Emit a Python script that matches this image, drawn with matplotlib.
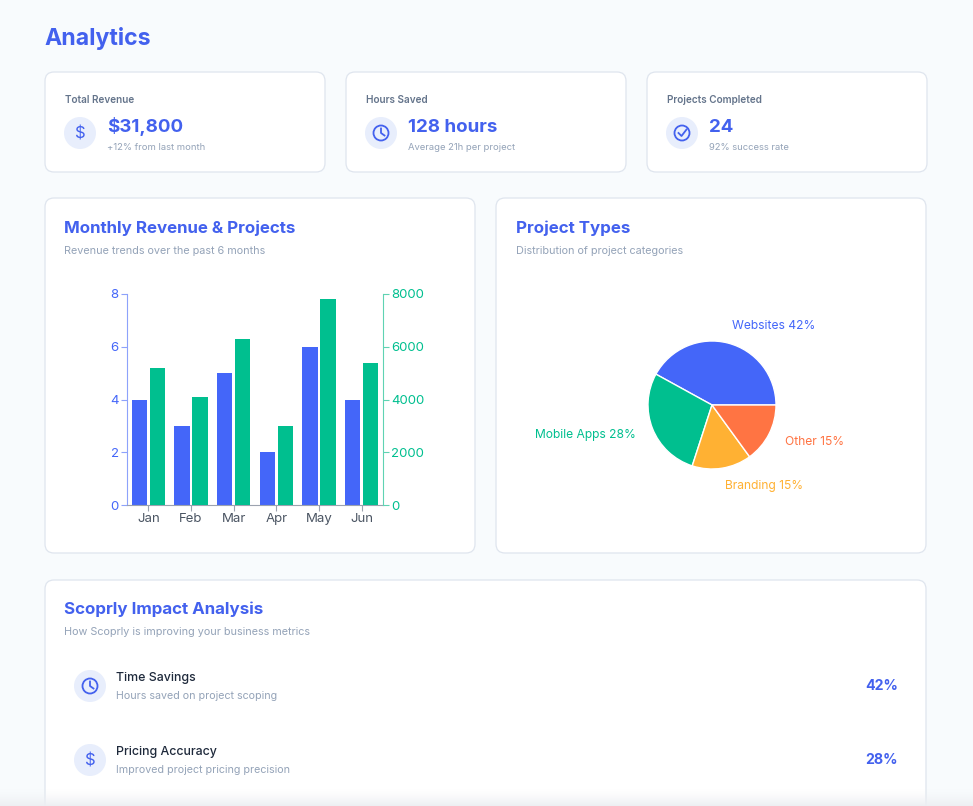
import matplotlib.pyplot as plt
from matplotlib.patches import FancyBboxPatch, Circle
import numpy as np

plt.rcParams['font.family'] = ['Inter', 'DejaVu Sans']

# data
months = ['Jan', 'Feb', 'Mar', 'Apr', 'May', 'Jun']
projects = [4, 3, 5, 2, 6, 4]
revenue = [5200, 4100, 6300, 3000, 7800, 5400]

pie_labels = ['Websites', 'Mobile Apps', 'Branding', 'Other']
pie_values = [42, 28, 15, 15]

stat_titles = ['Total Revenue', 'Hours Saved', 'Projects Completed']
stat_values = ['$31,800', '128 hours', '24']
stat_notes = ['+12% from last month', 'Average 21h per project', '92% success rate']

impact_names = ['Time Savings', 'Pricing Accuracy']
impact_notes = ['Hours saved on project scoping', 'Improved project pricing precision']
impact_values = ['42%', '28%']

BLUE = '#4361ee'
BAR_BLUE = '#4466f9'
GREEN = '#00bf8f'
AMBER = '#ffb133'
ORANGE = '#ff7443'
GRAY = '#94a3b8'
DARK = '#1e293b'
ICON_BG = '#e8eefc'

W, H = 973, 806
fig = plt.figure(figsize=(W / 100, H / 100), dpi=100)
fig.patch.set_facecolor('#f8fbfd')

bg = fig.add_axes([0, 0, 1, 1])
bg.set_xlim(0, W)
bg.set_ylim(H, 0)
bg.axis('off')


def card(x0, y0, x1, y1):
    bg.add_patch(FancyBboxPatch((x0, y0), x1 - x0, y1 - y0,
                                boxstyle='round,pad=0,rounding_size=9',
                                fc='white', ec='#dfe5ee', lw=0.9))


def icon(cx, cy, kind):
    bg.add_patch(Circle((cx, cy), 16, fc=ICON_BG, ec='none'))
    if kind == 'dollar':
        bg.text(cx, cy + 1, '$', color=BLUE, fontsize=12, ha='center', va='center')
    elif kind == 'clock':
        bg.add_patch(Circle((cx, cy), 7.5, fc='none', ec=BLUE, lw=1.3))
        bg.plot([cx, cx, cx + 3.5], [cy - 4.5, cy, cy + 2.5], color=BLUE, lw=1.3)
    else:
        bg.add_patch(Circle((cx, cy), 7.5, fc='none', ec=BLUE, lw=1.3))
        bg.plot([cx - 3.5, cx - 0.5, cx + 4.5], [cy, cy + 3, cy - 3.5], color=BLUE, lw=1.3)


bg.text(44, 39, 'Analytics', color=BLUE, fontsize=16.6, fontweight='bold', va='center')

kinds = ['dollar', 'clock', 'check']
for i in range(3):
    x0 = 45 + i * 301
    card(x0, 72, x0 + 280, 172)
    bg.text(x0 + 20, 100, stat_titles[i], color='#64748b', fontsize=7.2, fontweight='semibold', va='center')
    icon(x0 + 35, 133, kinds[i])
    bg.text(x0 + 62, 127, stat_values[i], color=BLUE, fontsize=13.5, fontweight='bold', va='center')
    bg.text(x0 + 62, 147, stat_notes[i], color=GRAY, fontsize=6.8, va='center')

card(45, 198, 475, 553)
card(496, 198, 926, 553)
bg.text(64, 228, 'Monthly Revenue & Projects', color=BLUE, fontsize=12.2, fontweight='bold', va='center')
bg.text(64, 251, 'Revenue trends over the past 6 months', color=GRAY, fontsize=7.8, va='center')
bg.text(516, 228, 'Project Types', color=BLUE, fontsize=12.2, fontweight='bold', va='center')
bg.text(516, 251, 'Distribution of project categories', color=GRAY, fontsize=7.8, va='center')

card(45, 580, 926, 830)
bg.text(64, 609, 'Scoprly Impact Analysis', color=BLUE, fontsize=12.2, fontweight='bold', va='center')
bg.text(64, 632, 'How Scoprly is improving your business metrics', color=GRAY, fontsize=7.8, va='center')
impact_kinds = ['clock', 'dollar']
for i in range(2):
    cy = 686 + i * 74
    icon(90, cy, impact_kinds[i])
    bg.text(116, cy - 8, impact_names[i], color=DARK, fontsize=8.9, fontweight='medium', va='center')
    bg.text(116, cy + 10, impact_notes[i], color=GRAY, fontsize=7.7, va='center')
    bg.text(898, cy, impact_values[i], color=BLUE, fontsize=10.2, fontweight='bold', ha='right', va='center')

# bottom fade
fade = np.zeros((50, 1, 4))
fade[..., :3] = np.array([0.93, 0.94, 0.95])
fade[:, 0, 3] = np.linspace(0, 1, 50) ** 1.5
bg.imshow(fade, extent=(0, W, H, 788), aspect='auto', zorder=5)
bg.set_xlim(0, W)
bg.set_ylim(H, 0)

# bar chart
ax = fig.add_axes([127 / W, (H - 505) / H, 256 / W, 211 / H])
ax2 = ax.twinx()
x = np.arange(len(months))
ax.bar(x - 0.21, projects, width=0.36, color=BAR_BLUE, zorder=2)
ax2.bar(x + 0.21, revenue, width=0.36, color=GREEN, zorder=2)
ax.set_xlim(-0.5, len(months) - 0.5)
ax.set_ylim(0, 8)
ax2.set_ylim(0, 8000)
ax.set_yticks([0, 2, 4, 6, 8])
ax2.set_yticks([0, 2000, 4000, 6000, 8000])
ax.set_xticks(x)
ax.set_xticklabels(months)
for a in (ax, ax2):
    a.set_facecolor('none')
    a.spines['top'].set_visible(False)
ax.spines['right'].set_visible(False)
ax.spines['left'].set_color('#8da2fb')
ax.spines['bottom'].set_color('#9ca3af')
ax2.spines['left'].set_visible(False)
ax2.spines['bottom'].set_visible(False)
ax2.spines['right'].set_color('#5fd3b3')
ax.tick_params(axis='y', colors='#8da2fb', labelcolor=BAR_BLUE, labelsize=9.5, length=4, pad=2)
ax.tick_params(axis='x', colors='#9ca3af', labelcolor='#4b5563', labelsize=9.5, length=4, pad=2)
ax2.tick_params(axis='y', colors='#5fd3b3', labelcolor=GREEN, labelsize=9.5, length=4, pad=2)

# pie chart
r = 64
pa = fig.add_axes([(712 - r) / W, (H - 405 - r) / H, 2 * r / W, 2 * r / H])
colors = [BAR_BLUE, GREEN, AMBER, ORANGE]
wedges, texts = pa.pie(pie_values, colors=colors, startangle=0, counterclock=True,
                       labels=[f'{l} {v}%' for l, v in zip(pie_labels, pie_values)],
                       labeldistance=1.28,
                       wedgeprops=dict(edgecolor='white', linewidth=1),
                       textprops=dict(fontsize=8.7))
for t, c in zip(texts, colors):
    t.set_color(c)
    t.set_va('center')
pa.set_xlim(-1, 1)
pa.set_ylim(-1, 1)
pa.set_aspect('equal')

fig.savefig('out.png', dpi=100, facecolor=fig.get_facecolor())
